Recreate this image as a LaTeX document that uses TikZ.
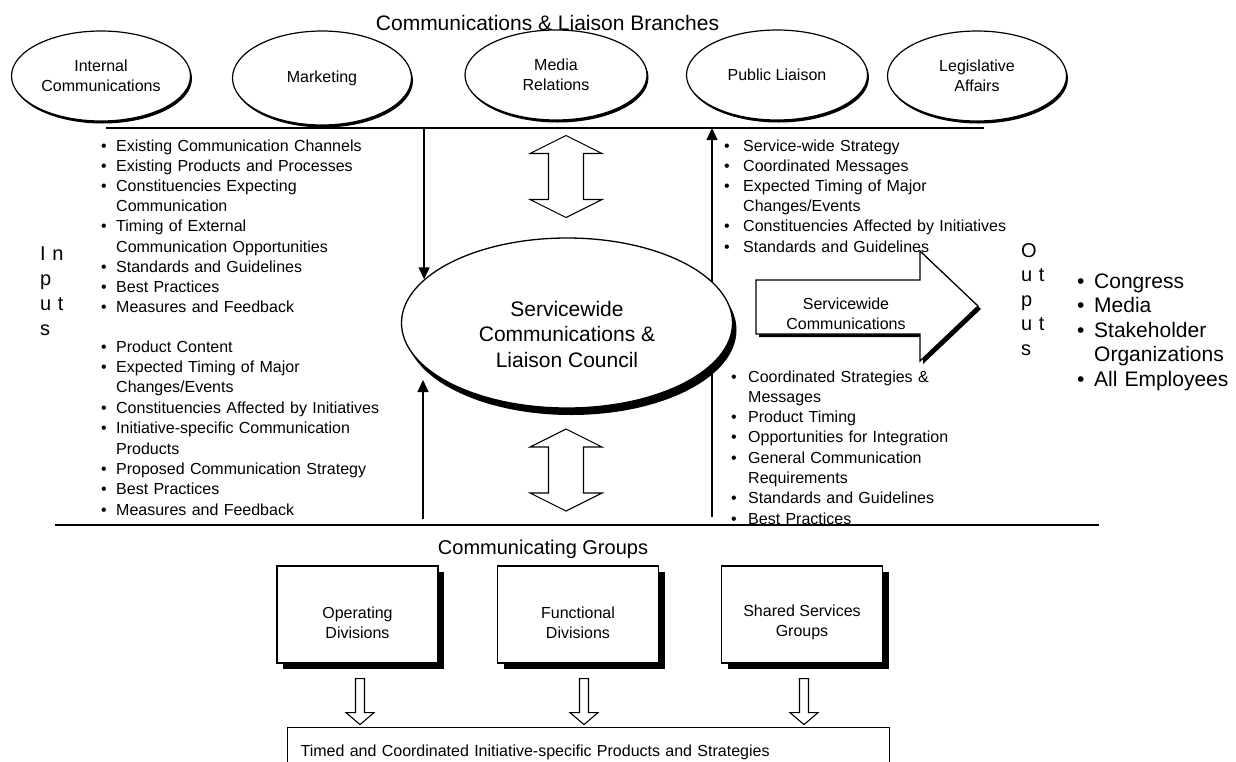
\documentclass[tikz,border=0pt]{standalone}
\usepackage{fontspec}
\setmainfont{Liberation Sans}
\usetikzlibrary{shapes.geometric,arrows.meta,shadows,calc,positioning}

\newlength\bitemind
\newcommand{\sz}[2]{\fontsize{#1}{#2}\selectfont}
\newcommand{\bitem}[1]{\hangindent=\bitemind\hangafter=1\makebox[\bitemind][l]{\textbullet}#1\par}

\tikzset{
  solidshadow/.style 2 args={drop shadow={shadow xshift=#1, shadow yshift=#2, fill=black, opacity=1}},
  branch/.style={ellipse, draw, line width=1.2pt, fill=white, minimum width=179pt, minimum height=90pt,
    align=center, font=\sz{16}{19.5}, solidshadow={1.5pt}{-2.5pt}},
  councilshape/.style={ellipse, draw, line width=1.3pt, fill=white, minimum width=331pt, minimum height=170pt,
    solidshadow={4pt}{-7pt}},
  groupbox/.style={draw, line width=1.2pt, fill=white, minimum width=161pt, minimum height=97pt,
    solidshadow={6pt}{-6pt}},
  boxlabel/.style={align=center, font=\sz{16}{20}, yshift=-8pt},
  bullets/.style={anchor=base west, text width=#1, align=left, inner sep=0pt},
  heading/.style={anchor=base, inner sep=0pt, font=\sz{21}{25}},
  hline/.style={line width=1.8pt},
  link/.style={line width=1.4pt, -{Triangle[length=12pt,width=11pt]}},
  hollow/.style={line width=1.1pt, fill=white},
  pics/twoway/.style={code={
    \draw[hollow] (0,-41) -- (36,-23) -- (17.5,-23) -- (17.5,23) -- (36,23) -- (0,41)
      -- (-36,23) -- (-17.5,23) -- (-17.5,-23) -- (-36,-23) -- cycle;}},
  pics/downway/.style={code={
    \draw[hollow] (-4.5,0) -- (4.5,0) -- (4.5,34) -- (14,34) -- (0,46) -- (-14,34) -- (-4.5,34) -- cycle;}}
}

\begin{document}
\begin{tikzpicture}[x=1pt, y=-1pt]
\useasboundingbox (0,0) rectangle (1236,761);

\node[heading] (title) at (547.5,30) {Communications \& Liaison Branches};

\node[branch] (intcom) at (101,76) {Internal\\Communications};
\node[branch, minimum height=94pt] (mkt) at (322,78) {Marketing};
\node[branch, minimum width=182pt] (media) at (556,75) {Media\\Relations};
\node[branch, minimum width=181pt] (publ) at (777,75) {Public Liaison};
\node[branch] (legis) at (977,76) {Legislative\\Affairs};

\coordinate (tl) at (106,128);
\coordinate (tr) at (984,128);
\coordinate (bl) at (55,525);
\coordinate (br) at (1099,525);
\draw[hline] (tl) -- (tr);

\coordinate (outtop) at (712,128);
\coordinate (outbot) at (712,517);
\draw[link, {Triangle[length=12pt,width=11pt]}-] (outtop) -- (outbot);

\node[councilshape] (council) at (567,323) {};
\node[font=\sz{21}{25.5}, align=center] (counciltxt) at (567,334) {Servicewide\\Communications \&\\Liaison Council};

\draw[link] (council.163 |- tl) -- (council.163);
\coordinate (upend) at (423,380);
\draw[link] ($(upend |- bl)+(0,-6)$) -- (upend);

\pic at (566,176.5) {twoway};
\pic at (566,470) {twoway};

\node[bullets=40pt, font=\sz{20}{25}] (inlabel) at (40,260) {I n\\p\\u t\\s};

\node[bullets=330pt, font=\sz{16}{20.2}] (inbranch) at (101,151) {\setlength\bitemind{15pt}%
  \bitem{Existing Communication Channels}
  \bitem{Existing Products and Processes}
  \bitem{Constituencies Expecting\newline Communication}
  \bitem{Timing of External\newline Communication Opportunities}
  \bitem{Standards and Guidelines}
  \bitem{Best Practices}
  \bitem{Measures and Feedback}};

\node[bullets=330pt, font=\sz{16}{20.4}] (ingroups) at (101,352) {\setlength\bitemind{15pt}%
  \bitem{Product Content}
  \bitem{Expected Timing of Major\newline Changes/Events}
  \bitem{Constituencies Affected by Initiatives}
  \bitem{Initiative-specific Communication\newline Products}
  \bitem{Proposed Communication Strategy}
  \bitem{Best Practices}
  \bitem{Measures and Feedback}};

\node[bullets=330pt, font=\sz{16}{20.2}] (outbranch) at (724,151) {\setlength\bitemind{19pt}%
  \bitem{Service-wide Strategy}
  \bitem{Coordinated Messages}
  \bitem{Expected Timing of Major\newline Changes/Events}
  \bitem{Constituencies Affected by Initiatives}
  \bitem{Standards and Guidelines}};

\node[bullets=330pt, font=\sz{16}{20.3}] (outgroups) at (731,382) {\setlength\bitemind{17pt}%
  \bitem{Coordinated Strategies \&\newline Messages}
  \bitem{Product Timing}
  \bitem{Opportunities for Integration}
  \bitem{General Communication\newline Requirements}
  \bitem{Standards and Guidelines}
  \bitem{Best Practices}};

\draw[hline] (bl) -- (br);

\draw[hollow, line width=1.3pt, solidshadow={3pt}{-3pt}] (756,280) -- (920,280) -- (920,251) -- (978,306)
  -- (920,361) -- (920,334) -- (756,334) -- cycle;
\node[align=center, font=\sz{16}{19.5}] (swcomm) at (846,314) {Servicewide\\Communications};

\node[bullets=30pt, font=\sz{20}{24.5}] (outlabel) at (1021,257) {O\\u t\\p\\u t\\s};

\node[bullets=160pt, font=\sz{21}{24.5}] (audience) at (1077,288) {\setlength\bitemind{17pt}%
  \bitem{Congress}
  \bitem{Media}
  \bitem{Stakeholder\newline Organizations}
  \bitem{All Employees}};

\node[heading, font=\sz{20}{24}] (groups) at (543,554) {Communicating Groups};

\node[groupbox, label={[boxlabel]center:Operating\\Divisions}] (opdiv) at (357.5,614.5) {};
\node[groupbox, label={[boxlabel]center:Functional\\Divisions}] (fndiv) at (578,614.5) {};
\node[groupbox, label={[boxlabel]center:Shared Services\\Groups}] (shared) at (802,614.5) {};

\node[draw, line width=1.2pt, anchor=north west, minimum width=602pt, minimum height=50pt, text width=576pt,
  inner xsep=13pt, align=left, font=\sz{16}{20}] (products) at (287,727)
  {Timed and Coordinated Initiative-specific Products and Strategies};

\pic at ($(opdiv.south)+(2.5,15)$) {downway};
\pic at ($(fndiv.south)+(6,15)$) {downway};
\pic at ($(shared.south)+(2,15)$) {downway};
\end{tikzpicture}
\end{document}
